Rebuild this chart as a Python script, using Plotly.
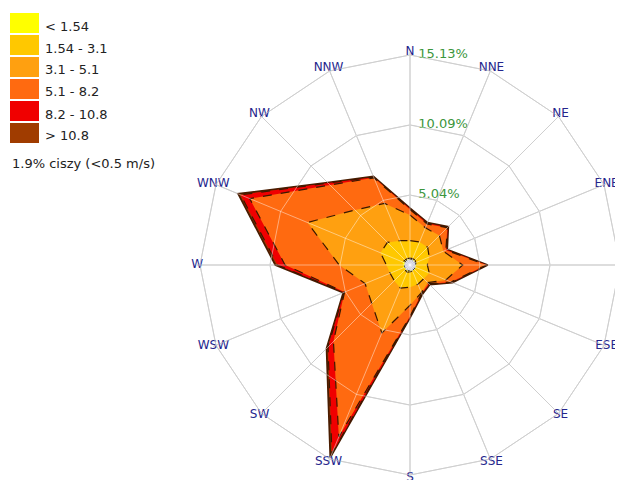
import numpy as np
import plotly.graph_objects as go

# ----------------------------------------------------------------------
# Data: wind frequency (%) per direction and speed class (m/s)
# ----------------------------------------------------------------------
directions = ["N", "NNE", "NE", "ENE", "E", "ESE", "SE", "SSE",
              "S", "SSW", "SW", "WSW", "W", "WNW", "NW", "NNW"]

speed_bins = ["< 1.54", "1.54 - 3.1", "3.1 - 5.1", "5.1 - 8.2", "8.2 - 10.8", "> 10.8"]
bin_colors = ["#ffff00", "#ffc800", "#ffa010", "#ff6a10", "#f00000", "#a03c00"]

freq_lt_154 = [0.50, 0.50, 0.50, 0.45, 0.45, 0.45, 0.50, 0.45,
               0.50, 0.55, 0.50, 0.50, 0.50, 0.55, 0.50, 0.50]
freq_154_31 = [1.25, 1.30, 1.30, 1.05, 0.80, 1.05, 0.90, 1.05,
               1.10, 1.25, 1.10, 1.05, 1.20, 1.75, 1.80, 1.40]
freq_31_51 = [1.85, 1.10, 1.20, 1.10, 2.55, 1.30, 0.40, 0.65,
              1.30, 3.50, 2.30, 1.95, 3.40, 5.70, 3.30, 2.90]
freq_51_82 = [0.40, 0.30, 0.80, 0.20, 1.70, 0.40, 0.10, 0.05,
              0.80, 8.10, 3.90, 1.60, 3.90, 4.50, 2.55, 2.00]
freq_82_108 = [0.05, 0.05, 0.05, 0.05, 0.05, 0.05, 0.05, 0.05,
               0.05, 1.30, 0.55, 0.05, 0.55, 0.70, 0.20, 0.05]
freq_gt_108 = [0.05, 0.05, 0.05, 0.05, 0.05, 0.05, 0.05, 0.05,
               0.05, 0.30, 0.15, 0.05, 0.15, 0.20, 0.05, 0.05]

calm_pct = 1.9
calm_radius = 0.42
ring_ticks = [5.04, 10.09, 15.13]

# ----------------------------------------------------------------------
# Layout helpers (page pixels -> paper; the page body adds an 8px margin)
# ----------------------------------------------------------------------
OFF = 8
W, H = 623 - OFF, 480 - OFF


def px(x):
    return (x - OFF) / W


def py(y):
    return 1 - (y - OFF) / H


# radial range runs a little past the outer ring so the labels fit on it
R_PAD = 1.0135
r_max = ring_ticks[-1] * R_PAD

CX, CY, RAD = 410, 265, 210 * R_PAD
domain = dict(x=[px(CX - RAD), min(1.0, px(CX + RAD))],
              y=[max(0.0, py(CY + RAD)), py(CY - RAD)])

GRID = "#a8a8a8"
GRID_OVER = "rgba(255,255,255,0.45)"
NAVY = "#25258c"
GREEN = "#3c963c"

# ----------------------------------------------------------------------
# Figure
# ----------------------------------------------------------------------
cum = np.cumsum(np.array([freq_lt_154, freq_154_31, freq_31_51,
                          freq_51_82, freq_82_108, freq_gt_108]), axis=0)
theta = directions + directions[:1]

fig = go.Figure()

# outer classes first so inner polygons sit on top
for i in range(len(speed_bins) - 1, -1, -1):
    r = list(cum[i]) + [cum[i][0]]
    outer = i == len(speed_bins) - 1
    fig.add_trace(go.Scatterpolar(
        r=r, theta=theta, mode="lines", fill="toself",
        fillcolor=bin_colors[i],
        line=dict(color="#4a1c00" if outer else "#3a1800",
                  width=1.8 if outer else 1.2,
                  dash="solid" if outer else "dash"),
        name=speed_bins[i], showlegend=False, hoverinfo="skip",
    ))

# calm circle
fig.add_trace(go.Scatterpolar(
    r=[calm_radius] * len(theta), theta=theta, mode="lines", fill="toself",
    fillcolor="#c8c8d8", line=dict(color="#404040", width=1, dash="dot"),
    showlegend=False, hoverinfo="skip",
))

# direction labels sitting on the outer ring
fig.add_trace(go.Scatterpolar(
    r=[r_max] * len(directions), theta=directions,
    mode="text", text=directions, textposition="middle center",
    textfont=dict(family="DejaVu Sans", size=12, color=NAVY),
    cliponaxis=False, showlegend=False, hoverinfo="skip",
))

# ring percentage labels along the north spoke
fig.add_trace(go.Scatterpolar(
    r=ring_ticks, theta=["N"] * len(ring_ticks),
    mode="text", text=[f"\u00a0\u00a0{v:.2f}%" for v in ring_ticks],
    textposition="middle right",
    textfont=dict(family="DejaVu Sans", size=13, color=GREEN),
    cliponaxis=False, showlegend=False, hoverinfo="skip",
))

# light grid drawn over the filled areas
fig.add_trace(go.Scatterpolar(
    r=[None] * len(directions), theta=directions, subplot="polar2",
    showlegend=False, hoverinfo="skip",
))

fig.update_layout(
    width=W, height=H,
    margin=dict(l=0, r=0, t=0, b=0),
    paper_bgcolor="#ffffff",
    font=dict(family="DejaVu Sans", size=13, color="#222222"),
    polar=dict(
        domain=domain,
        gridshape="linear",
        bgcolor="rgba(0,0,0,0)",
        angularaxis=dict(
            type="category", categoryarray=directions,
            rotation=90, direction="clockwise", showline=False,
            gridcolor=GRID, ticks="", showticklabels=False,
        ),
        radialaxis=dict(
            range=[0, r_max], tickmode="array", tickvals=ring_ticks,
            showticklabels=False, ticks="", showline=False, gridcolor=GRID,
        ),
    ),
    polar2=dict(
        domain=domain,
        gridshape="linear",
        bgcolor="rgba(0,0,0,0)",
        angularaxis=dict(
            type="category", categoryarray=directions,
            rotation=90, direction="clockwise",
            gridcolor=GRID_OVER, showline=False,
            ticks="", showticklabels=False,
        ),
        radialaxis=dict(
            range=[0, r_max], tickmode="array", tickvals=ring_ticks,
            showticklabels=False, ticks="", showline=False, gridcolor=GRID_OVER,
        ),
    ),
)

# legend: colour squares with speed-class labels
for i, (label, color) in enumerate(zip(speed_bins, bin_colors)):
    top = 13 + 22 * i
    fig.add_shape(type="rect", xref="paper", yref="paper",
                  x0=px(10), x1=px(39), y0=py(top), y1=py(top + 20),
                  fillcolor=color, line=dict(width=0))
    fig.add_annotation(text=label, xref="paper", yref="paper",
                       x=px(43), y=py(top + 13), xanchor="left",
                       yanchor="middle", showarrow=False,
                       font=dict(size=13, color="#222222"))

fig.add_annotation(text=f"{calm_pct}% ciszy (<0.5 m/s)", xref="paper", yref="paper",
                   x=px(10), y=py(163), xanchor="left", yanchor="middle",
                   showarrow=False, font=dict(size=13, color="#222222"))

fig.write_html("out.html")
